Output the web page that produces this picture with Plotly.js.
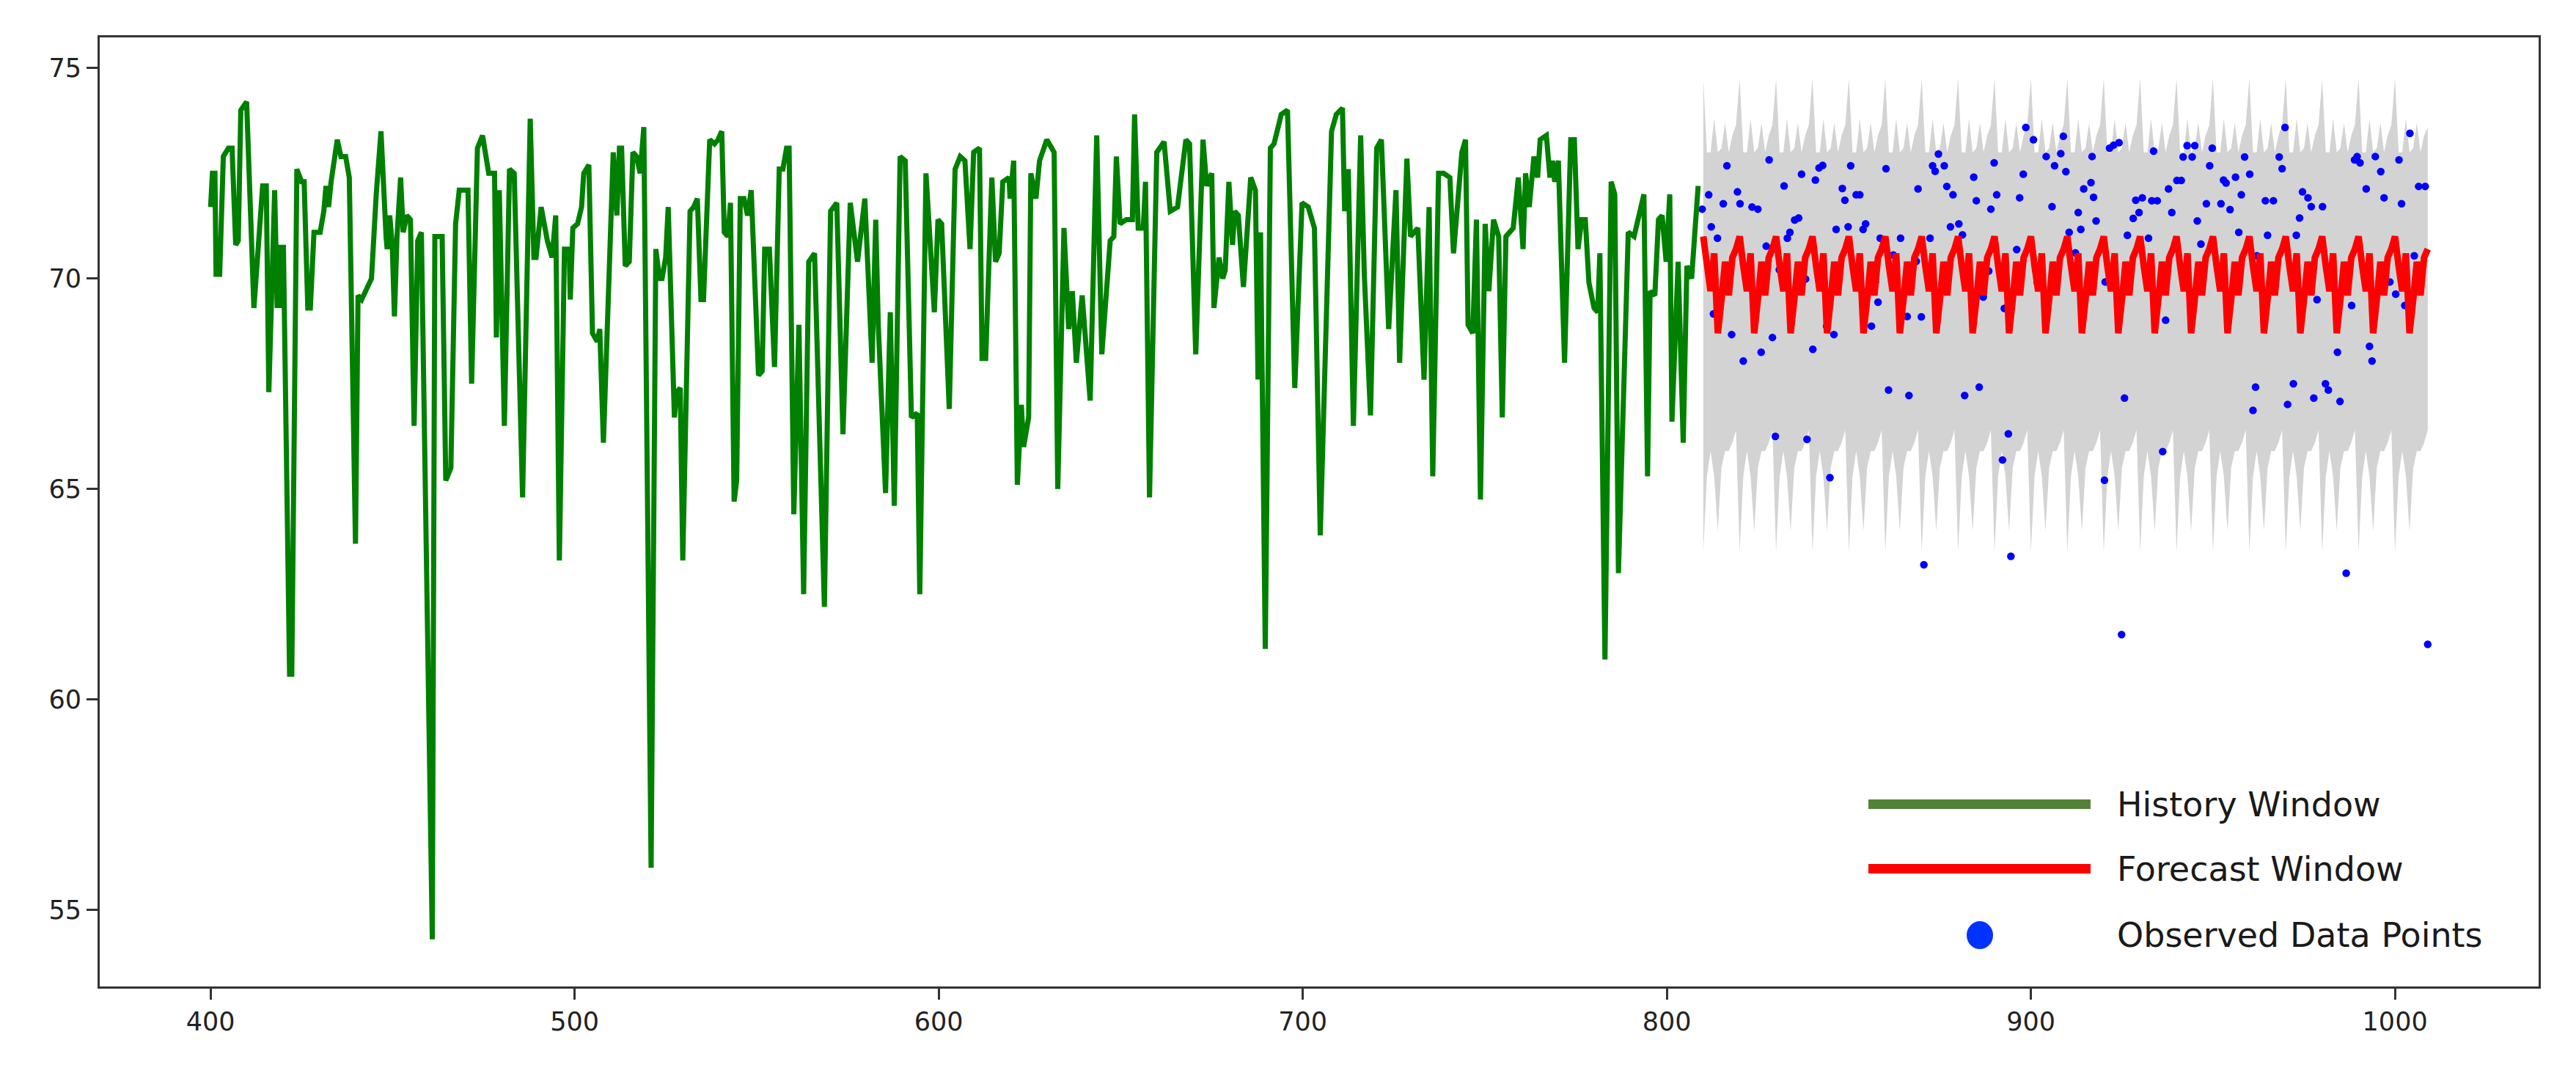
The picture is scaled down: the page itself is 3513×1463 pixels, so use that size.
<!DOCTYPE html>
<html>
<head>
<meta charset="utf-8">
<script src="https://cdn.plot.ly/plotly-3.0.1.min.js"></script>
<style>
  html, body { margin: 0; padding: 0; background: #ffffff; }
  #chart { width: 3513px; height: 1463px; }
</style>
</head>
<body>
<div id="chart"></div>
<script>
// ---------------- DATA ----------------
// History window: vertices of the green line (x = day index, y = value)
const historyX = [
  400.0,400.5,401.2,401.5,402.5,403.5,404.9,405.9,406.9,407.6,408.3,409.9,411.9,414.3,415.3,416.0,417.6,418.3,419.0,419.7,
  420.0,421.7,422.3,423.7,425.0,425.7,426.7,427.4,428.4,430.1,431.1,431.7,432.4,433.1,434.8,435.8,437.1,438.1,439.8,440.5,
  441.5,442.5,444.2,445.5,446.8,448.2,448.5,449.2,449.9,450.5,451.2,452.2,452.9,453.9,454.9,455.9,456.9,457.9,460.9,461.6,
  463.6,464.6,466.0,467.3,468.3,470.7,471.7,473.3,474.7,476.4,478.0,478.5,479.3,480.7,482.1,483.4,485.7,487.8,488.8,489.4,
  490.8,492.5,493.8,494.8,495.8,497.2,498.5,498.8,499.5,500.8,501.9,502.5,503.9,504.9,506.2,506.9,507.9,510.6,511.6,512.3,
  512.9,513.9,515.0,516.0,517.0,518.0,519.0,521.0,522.3,523.3,524.0,525.0,525.7,527.4,528.0,529.0,529.7,531.7,532.7,533.7,
  534.7,535.4,537.1,538.4,539.4,540.4,541.1,542.1,542.8,543.8,544.5,545.5,546.5,547.5,548.5,550.5,551.5,552.2,553.5,554.9,
  556.2,557.2,558.2,558.9,560.2,561.6,562.9,564.3,565.9,568.6,570.3,572.0,573.7,575.7,577.7,579.7,581.7,582.7,583.4,585.4,
  586.7,587.8,589.4,590.8,592.5,594.1,594.8,596.5,598.8,599.8,600.8,602.9,604.5,605.9,607.2,608.6,609.6,611.2,611.9,612.9,
  614.6,615.6,616.6,617.6,619.3,619.6,620.6,621.6,622.7,623.3,624.7,625.3,626.7,627.7,629.7,631.7,632.7,634.4,635.7,636.7,
  637.8,639.4,641.6,643.4,644.8,647.1,648.1,648.8,649.8,651.5,653.2,653.8,654.8,656.2,656.8,657.9,659.9,661.9,663.6,665.6,
  667.9,668.9,670.6,672.6,673.6,675.0,675.6,677.0,678.0,678.7,679.7,680.7,681.3,682.3,683.7,685.7,687.0,687.7,688.4,689.7,
  691.1,692.1,693.1,694.1,695.8,697.8,699.8,701.5,703.2,704.8,707.9,709.2,710.9,711.5,712.5,713.9,715.9,716.9,718.6,720.3,
  721.6,723.6,725.6,726.6,728.6,729.6,731.6,733.3,734.7,735.7,737.3,738.7,740.4,741.4,743.7,744.7,745.4,746.7,747.7,748.8,
  750.1,751.1,752.4,753.8,754.8,755.8,757.8,759.2,760.5,761.2,762.2,763.5,764.5,765.2,766.9,767.9,768.6,769.2,770.2,771.9,
  773.6,774.6,775.6,776.6,777.6,778.6,780.0,781.0,781.6,783.0,784.7,785.7,786.7,789.4,791.0,793.7,794.7,795.4,796.7,797.7,
  798.7,799.8,800.8,801.4,803.1,804.5,805.5,806.8,808.6
];
const historyY = [
  71.7,72.5,72.5,70.1,70.1,72.9,73.1,73.1,70.8,70.9,74.0,74.2,69.3,72.2,72.2,67.3,72.1,69.3,70.8,69.3,
  70.8,60.6,60.6,72.6,72.3,72.3,69.3,69.3,71.1,71.1,71.6,72.2,71.7,72.3,73.3,72.9,72.9,72.4,63.7,69.6,
  69.5,69.7,70.0,72.0,73.5,71.0,70.7,71.5,70.8,69.1,71.0,72.4,71.1,71.5,71.4,66.5,70.9,71.1,54.3,71.0,
  71.0,65.2,65.5,71.3,72.1,72.1,67.5,73.1,73.4,72.5,72.5,68.6,72.1,66.5,72.6,72.5,64.8,73.8,70.5,70.5,
  71.7,70.9,70.5,71.5,63.3,70.7,70.7,69.5,71.2,71.3,71.7,72.5,72.7,68.7,68.5,68.8,66.1,73.0,71.5,73.1,
  73.1,70.3,70.4,73.0,72.9,72.5,73.6,56.0,70.7,70.0,70.0,70.5,71.7,66.7,67.3,67.4,63.3,71.6,71.7,71.9,
  69.5,69.5,73.3,73.2,73.3,73.5,71.1,71.0,71.8,64.7,65.2,71.9,71.9,71.5,72.1,67.7,67.8,70.7,70.7,67.9,
  72.6,72.6,73.1,73.1,64.4,68.9,62.5,70.4,70.6,62.2,71.6,71.8,66.3,71.8,70.4,71.9,68.0,71.4,68.9,64.9,
  69.2,64.6,72.9,72.8,66.7,66.8,62.5,72.5,69.2,71.4,71.3,66.9,72.6,72.9,72.8,70.7,73.0,73.1,68.1,68.1,
  72.4,70.4,70.6,72.3,72.4,71.9,72.8,65.1,67.0,66.0,66.7,72.5,71.9,72.8,73.3,73.0,65.0,71.2,68.8,69.7,
  68.0,69.6,67.1,73.4,68.2,70.9,71.0,72.9,71.3,71.4,71.4,73.9,71.2,71.2,72.3,64.8,73.0,73.25,71.6,71.7,
  73.3,73.2,68.2,73.3,72.2,72.5,69.3,70.5,70.0,70.2,72.3,70.8,71.6,71.5,69.8,72.4,72.1,67.6,71.1,61.2,
  73.1,73.2,73.6,73.9,74.0,67.4,71.8,71.7,71.2,63.9,73.5,73.9,74.05,71.6,72.6,66.5,73.4,70.1,66.75,73.1,
  73.3,68.8,72.1,68.0,72.85,71.0,71.2,67.6,71.7,65.3,72.5,72.5,72.4,70.6,73.0,73.3,68.9,68.7,71.4,64.75,
  71.3,69.7,71.4,71.0,66.7,71.0,71.2,72.4,70.7,72.5,71.7,72.9,72.4,73.3,73.4,72.4,72.8,72.3,72.8,68.0,
  73.3,73.3,70.7,71.4,71.4,69.9,69.3,69.2,70.6,60.95,72.3,72.0,63.0,71.1,71.0,72.0,65.3,69.7,69.6,71.4,
  71.5,70.4,72.0,66.6,70.4,66.1,70.3,70.0,72.2
];

// Forecast window: one value per day from day 810 to day 1009
const forecastStart = 810;
const forecastMean = [
  71.0,70.3,69.7,70.6,68.7,69.5,70.4,69.6,70.5,70.7,
  71.0,70.3,69.7,70.6,68.7,69.5,70.4,69.6,70.5,70.7,
  71.0,70.3,69.7,70.6,68.7,69.5,70.4,69.6,70.5,70.7,
  71.0,70.3,69.7,70.6,68.7,69.5,70.4,69.6,70.5,70.7,
  71.0,70.3,69.7,70.6,68.7,69.5,70.4,69.6,70.5,70.7,
  71.0,70.3,69.7,70.6,68.7,69.5,70.4,69.6,70.5,70.7,
  71.0,70.3,69.7,70.6,68.7,69.5,70.4,69.6,70.5,70.7,
  71.0,70.3,69.7,70.6,68.7,69.5,70.4,69.6,70.5,70.7,
  71.0,70.3,69.7,70.6,68.7,69.5,70.4,69.6,70.5,70.7,
  71.0,70.3,69.7,70.6,68.7,69.5,70.4,69.6,70.5,70.7,
  71.0,70.3,69.7,70.6,68.7,69.5,70.4,69.6,70.5,70.7,
  71.0,70.3,69.7,70.6,68.7,69.5,70.4,69.6,70.5,70.7,
  71.0,70.3,69.7,70.6,68.7,69.5,70.4,69.6,70.5,70.7,
  71.0,70.3,69.7,70.6,68.7,69.5,70.4,69.6,70.5,70.7,
  71.0,70.3,69.7,70.6,68.7,69.5,70.4,69.6,70.5,70.7,
  71.0,70.3,69.7,70.6,68.7,69.5,70.4,69.6,70.5,70.7,
  71.0,70.3,69.7,70.6,68.7,69.5,70.4,69.6,70.5,70.7,
  71.0,70.3,69.7,70.6,68.7,69.5,70.4,69.6,70.5,70.7,
  71.0,70.3,69.7,70.6,68.7,69.5,70.4,69.6,70.5,70.7,
  71.0,70.3,69.7,70.6,68.7,69.5,70.4,69.6,70.5,70.7
];
const forecastUpper = [
  74.75,73.0,73.0,73.8,73.0,73.1,73.7,73.0,73.4,73.65,
  74.75,73.0,73.0,73.8,73.0,73.1,73.7,73.0,73.4,73.65,
  74.75,73.0,73.0,73.8,73.0,73.1,73.7,73.0,73.4,73.65,
  74.75,73.0,73.0,73.8,73.0,73.1,73.7,73.0,73.4,73.65,
  74.75,73.0,73.0,73.8,73.0,73.1,73.7,73.0,73.4,73.65,
  74.75,73.0,73.0,73.8,73.0,73.1,73.7,73.0,73.4,73.65,
  74.75,73.0,73.0,73.8,73.0,73.1,73.7,73.0,73.4,73.65,
  74.75,73.0,73.0,73.8,73.0,73.1,73.7,73.0,73.4,73.65,
  74.75,73.0,73.0,73.8,73.0,73.1,73.7,73.0,73.4,73.65,
  74.75,73.0,73.0,73.8,73.0,73.1,73.7,73.0,73.4,73.65,
  74.75,73.0,73.0,73.8,73.0,73.1,73.7,73.0,73.4,73.65,
  74.75,73.0,73.0,73.8,73.0,73.1,73.7,73.0,73.4,73.65,
  74.75,73.0,73.0,73.8,73.0,73.1,73.7,73.0,73.4,73.65,
  74.75,73.0,73.0,73.8,73.0,73.1,73.7,73.0,73.4,73.65,
  74.75,73.0,73.0,73.8,73.0,73.1,73.7,73.0,73.4,73.65,
  74.75,73.0,73.0,73.8,73.0,73.1,73.7,73.0,73.4,73.65,
  74.75,73.0,73.0,73.8,73.0,73.1,73.7,73.0,73.4,73.65,
  74.75,73.0,73.0,73.8,73.0,73.1,73.7,73.0,73.4,73.65,
  74.75,73.0,73.0,73.8,73.0,73.1,73.7,73.0,73.4,73.65,
  74.75,73.0,73.0,73.8,73.0,73.1,73.7,73.0,73.4,73.6
];
const forecastLower = [
  63.5,65.3,65.9,65.3,64.0,65.5,65.9,65.9,66.1,66.4,
  63.5,65.3,65.9,65.3,64.0,65.5,65.9,65.9,66.1,66.4,
  63.5,65.3,65.9,65.3,64.0,65.5,65.9,65.9,66.1,66.4,
  63.5,65.3,65.9,65.3,64.0,65.5,65.9,65.9,66.1,66.4,
  63.5,65.3,65.9,65.3,64.0,65.5,65.9,65.9,66.1,66.4,
  63.5,65.3,65.9,65.3,64.0,65.5,65.9,65.9,66.1,66.4,
  63.5,65.3,65.9,65.3,64.0,65.5,65.9,65.9,66.1,66.4,
  63.5,65.3,65.9,65.3,64.0,65.5,65.9,65.9,66.1,66.4,
  63.5,65.3,65.9,65.3,64.0,65.5,65.9,65.9,66.1,66.4,
  63.5,65.3,65.9,65.3,64.0,65.5,65.9,65.9,66.1,66.4,
  63.5,65.3,65.9,65.3,64.0,65.5,65.9,65.9,66.1,66.4,
  63.5,65.3,65.9,65.3,64.0,65.5,65.9,65.9,66.1,66.4,
  63.5,65.3,65.9,65.3,64.0,65.5,65.9,65.9,66.1,66.4,
  63.5,65.3,65.9,65.3,64.0,65.5,65.9,65.9,66.1,66.4,
  63.5,65.3,65.9,65.3,64.0,65.5,65.9,65.9,66.1,66.4,
  63.5,65.3,65.9,65.3,64.0,65.5,65.9,65.9,66.1,66.4,
  63.5,65.3,65.9,65.3,64.0,65.5,65.9,65.9,66.1,66.4,
  63.5,65.3,65.9,65.3,64.0,65.5,65.9,65.9,66.1,66.4,
  63.5,65.3,65.9,65.3,64.0,65.5,65.9,65.9,66.1,66.4,
  63.5,65.3,65.9,65.3,64.0,65.5,65.9,65.9,66.1,66.4
];

// Observed data points during the forecast window
const observedX = [
  809.7,811.5,812.2,812.8,813.9,815.5,816.5,817.8,819.4,820.1,821.0,823.4,825.0,825.9,827.3,828.1,829.0,829.8,830.9,832.2,
  833.1,833.8,835.1,836.2,837.0,838.1,838.5,840.1,840.8,841.8,842.8,843.9,844.8,845.9,846.5,848.2,848.9,849.8,850.5,852.0,
  853.0,853.9,854.6,856.2,857.2,858.0,858.6,860.2,860.9,862.2,864.2,866.0,866.5,868.5,869.0,869.9,870.6,872.3,873.0,873.7,
  874.6,876.2,876.9,877.9,878.6,880.2,881.2,881.8,884.3,885.0,885.8,886.9,888.4,889.0,889.9,890.6,892.2,892.7,893.8,894.5,
  896.1,896.9,897.9,898.6,900.7,901.7,904.2,905.8,906.5,908.2,908.9,909.6,910.5,912.2,913.0,913.7,914.5,916.5,916.8,917.2,
  917.9,920.2,920.4,921.6,922.7,924.2,924.9,925.7,926.5,928.1,928.8,929.7,930.6,932.3,933.2,933.7,934.7,936.2,937.0,937.8,
  938.7,940.1,941.3,941.8,942.9,944.3,945.0,945.7,946.7,948.2,949.1,949.8,952.2,952.9,953.6,954.7,956.2,957.1,957.8,958.7,
  960.1,961.0,961.7,962.1,964.4,965.0,966.6,968.2,969.0,969.8,970.5,972.1,972.9,973.8,974.6,976.1,977.0,977.7,978.6,980.1,
  980.9,981.7,984.2,984.9,986.6,988.1,988.9,989.6,990.4,992.1,993.0,993.7,994.6,996.1,997.0,998.6,1000.2,1001.1,1001.8,1002.7,
  1004.1,1005.3,1006.5,1008.3,1009.0
];
const observedY = [
  71.65,71.99,71.23,69.16,70.96,71.78,72.68,68.67,72.06,71.78,68.04,71.70,71.65,68.25,70.77,72.82,68.60,66.25,70.21,72.20,
  70.96,71.10,71.39,71.44,72.48,69.99,66.18,68.32,72.34,72.63,72.69,68.87,65.27,68.67,71.17,72.14,71.86,71.23,72.68,71.99,
  71.99,71.17,71.30,68.87,69.92,69.44,70.96,72.61,67.35,70.56,70.96,69.10,67.22,70.41,72.13,69.09,63.20,70.96,72.68,72.55,
  72.96,72.68,72.19,71.23,71.99,71.30,71.04,67.22,72.41,71.85,67.42,69.56,70.18,71.65,72.75,71.99,65.69,69.29,66.31,63.40,
  70.69,71.92,72.48,73.59,73.30,69.92,72.90,71.71,72.68,72.97,73.38,72.54,71.10,70.61,71.57,71.17,72.13,72.28,72.90,71.93,
  71.37,65.21,69.92,73.10,73.17,73.23,61.54,67.16,71.03,71.43,71.86,71.57,71.92,70.96,71.85,73.03,71.85,65.89,69.01,72.13,
  71.57,72.33,72.33,72.89,73.16,72.89,73.16,71.37,70.82,71.78,72.68,73.10,71.78,72.34,72.27,71.64,72.41,71.10,71.99,72.89,
  72.48,66.87,67.42,70.54,71.85,71.03,71.85,72.89,72.61,73.59,67.01,67.50,71.03,71.44,72.06,71.92,71.71,67.16,69.50,71.71,
  67.50,67.35,68.25,67.08,63.00,69.36,72.82,72.90,72.75,72.13,68.39,68.04,72.90,72.54,71.92,69.92,69.63,72.82,71.78,69.36,
  73.45,70.54,72.19,72.19,61.31
];

// Axis ticks
const xTicks = [400, 500, 600, 700, 800, 900, 1000];
const yTicks = [55, 60, 65, 70, 75];

// Legend labels
const legendLabels = ["History Window", "Forecast Window", "Observed Data Points"];

// ---------------- TRACES ----------------
const traces = [
  {
    type: "scatter", mode: "lines", name: "Forecast lower",
    x0: forecastStart, dx: 1, y: forecastLower,
    line: { width: 0, color: "#d3d3d3" },
    showlegend: false, hoverinfo: "skip"
  },
  {
    type: "scatter", mode: "lines", name: "Forecast interval",
    x0: forecastStart, dx: 1, y: forecastUpper,
    fill: "tonexty", fillcolor: "#d3d3d3",
    line: { width: 0, color: "#d3d3d3" },
    showlegend: false, hoverinfo: "skip"
  },
  {
    type: "scatter", mode: "markers", name: legendLabels[2],
    x: observedX, y: observedY,
    marker: { color: "#0000ff", size: 10.5, line: { width: 0 } },
    showlegend: false
  },
  {
    type: "scatter", mode: "lines", name: legendLabels[1],
    x0: forecastStart, dx: 1, y: forecastMean,
    line: { color: "#ff0000", width: 9, shape: "linear" },
    showlegend: false
  },
  {
    type: "scatter", mode: "lines", name: legendLabels[0],
    x: historyX, y: historyY,
    line: { color: "#008000", width: 7, shape: "linear" },
    showlegend: false
  }
];

// ---------------- LAYOUT ----------------
const axisCommon = {
  showgrid: false, zeroline: false,
  showline: true, mirror: true, linecolor: "#333333", linewidth: 3,
  ticks: "outside", ticklen: 15, tickwidth: 3, tickcolor: "#333333",
  tickfont: { family: "DejaVu Sans", size: 35, color: "#222222" }
};

// custom legend (drawn in paper coordinates, matching the reference's long legend keys)
const legendRows = [0.192, 0.124, 0.054];
const legendShapes = [
  { type: "line", xref: "paper", yref: "paper", x0: 0.7252, x1: 0.8163, y0: legendRows[0], y1: legendRows[0],
    line: { color: "#548235", width: 13 } },
  { type: "line", xref: "paper", yref: "paper", x0: 0.7252, x1: 0.8163, y0: legendRows[1], y1: legendRows[1],
    line: { color: "#ff0000", width: 13 } },
  { type: "circle", xref: "paper", yref: "paper", xsizemode: "pixel", ysizemode: "pixel",
    xanchor: 0.7709, yanchor: legendRows[2], x0: -18, x1: 18, y0: -19, y1: 19,
    fillcolor: "#0033ff", line: { width: 0 } }
];
const legendAnnotations = legendLabels.map((t, i) => ({
  text: t, xref: "paper", yref: "paper", x: 0.8265, y: legendRows[i],
  xanchor: "left", yanchor: "middle", showarrow: false,
  font: { family: "DejaVu Sans", size: 46, color: "#1a1a1a" }
}));

const layout = {
  width: 3513, height: 1463,
  margin: { l: 136, r: 51, t: 51, b: 118, pad: 0 },
  paper_bgcolor: "#ffffff", plot_bgcolor: "#ffffff",
  showlegend: false,
  xaxis: Object.assign({}, axisCommon, {
    range: [369.55, 1039.45], tickvals: xTicks, ticktext: xTicks.map(String)
  }),
  yaxis: Object.assign({}, axisCommon, {
    range: [53.18, 75.73], tickvals: yTicks, ticktext: yTicks.map(String)
  }),
  shapes: legendShapes,
  annotations: legendAnnotations
};

Plotly.newPlot("chart", traces, layout, { displayModeBar: false, staticPlot: true });
</script>
</body>
</html>
